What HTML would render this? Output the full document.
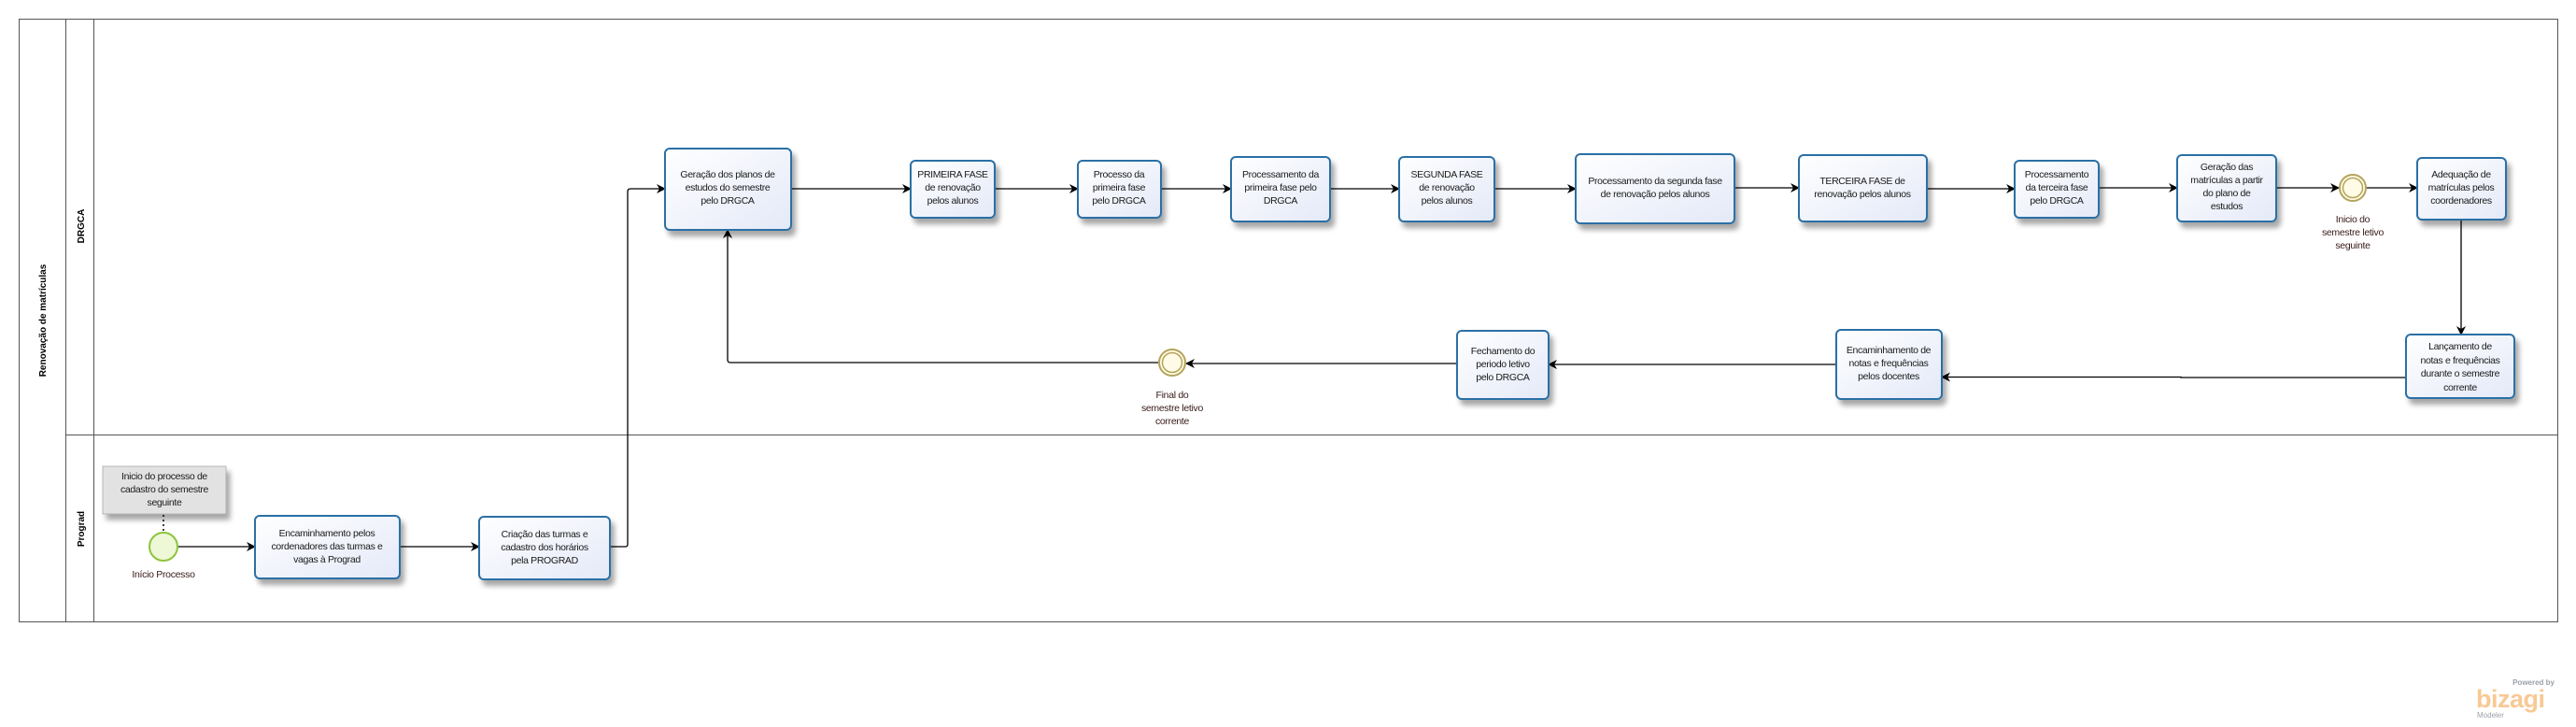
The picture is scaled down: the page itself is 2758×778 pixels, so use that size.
<!DOCTYPE html>
<html><head><meta charset="utf-8">
<style>
html,body{margin:0;padding:0;background:#fff;}
svg{display:block;}
text{font-family:"Liberation Sans",sans-serif;}
.t{font-size:10.5px;fill:#1a1a1a;letter-spacing:-0.35px;}
.lbl{font-size:10.5px;fill:#3a1a1a;letter-spacing:-0.3px;}
</style></head>
<body>
<svg width="2758" height="778" viewBox="0 0 2758 778" xmlns="http://www.w3.org/2000/svg">
<defs>
<linearGradient id="g" x1="0" y1="0" x2="1" y2="1">
<stop offset="0" stop-color="#ffffff"/><stop offset="1" stop-color="#e4e9f8"/>
</linearGradient>
<filter id="sh" x="-10%" y="-10%" width="130%" height="140%">
<feGaussianBlur in="SourceAlpha" stdDeviation="3"/><feOffset dx="4" dy="6"/>
<feComponentTransfer><feFuncA type="linear" slope="0.35"/></feComponentTransfer>
<feMerge><feMergeNode/><feMergeNode in="SourceGraphic"/></feMerge>
</filter>
<marker id="a" markerWidth="10" markerHeight="10" refX="9" refY="5" orient="auto" markerUnits="userSpaceOnUse">
<path d="M0,0 L10,5 L0,10 L3,5 Z" fill="#000"/>
</marker>
</defs>

<!-- Pool -->
<rect x="20.5" y="20.5" width="2718" height="645" fill="none" stroke="#555" stroke-width="1"/>
<line x1="70.5" y1="20" x2="70.5" y2="666" stroke="#555"/>
<line x1="100.5" y1="20" x2="100.5" y2="666" stroke="#555"/>
<line x1="70" y1="465.5" x2="2739" y2="465.5" stroke="#555"/>
<text transform="translate(49,343) rotate(-90)" text-anchor="middle" font-size="10" font-weight="bold" fill="#000">Renovação de matrículas</text>
<text transform="translate(90,242) rotate(-90)" text-anchor="middle" font-size="10" font-weight="bold" fill="#000">DRGCA</text>
<text transform="translate(90,566) rotate(-90)" text-anchor="middle" font-size="10" font-weight="bold" fill="#000">Prograd</text>

<!-- connectors -->
<g stroke="#000" stroke-width="1.3" fill="none">
<line x1="190" y1="585" x2="273" y2="585" marker-end="url(#a)"/>
<line x1="428" y1="585" x2="513" y2="585" marker-end="url(#a)"/>
<path d="M653,585 H670 Q672,585 672,582 V205 Q672,202 675,202 H712" marker-end="url(#a)"/>
<line x1="847" y1="202" x2="975" y2="202" marker-end="url(#a)"/>
<line x1="1065" y1="202" x2="1154" y2="202" marker-end="url(#a)"/>
<line x1="1243" y1="202" x2="1318" y2="202" marker-end="url(#a)"/>
<line x1="1424" y1="202" x2="1498" y2="202" marker-end="url(#a)"/>
<line x1="1600" y1="202" x2="1687" y2="202" marker-end="url(#a)"/>
<line x1="1857" y1="201" x2="1926" y2="201" marker-end="url(#a)"/>
<line x1="2063" y1="202" x2="2157" y2="202" marker-end="url(#a)"/>
<line x1="2247" y1="201" x2="2331" y2="201" marker-end="url(#a)"/>
<line x1="2437" y1="201" x2="2504" y2="201" marker-end="url(#a)"/>
<line x1="2534" y1="201" x2="2588" y2="201" marker-end="url(#a)"/>
<line x1="2635" y1="235" x2="2635" y2="358" marker-end="url(#a)"/>
<path d="M2576,404 H2335 V403.5 H2079" marker-end="url(#a)"/>
<line x1="1966" y1="390" x2="1658" y2="390" marker-end="url(#a)"/>
<line x1="1560" y1="389" x2="1270" y2="389" marker-end="url(#a)"/>
<path d="M1240,388 H782 Q779,388 779,385 V246" marker-end="url(#a)"/>
</g>

<!-- annotation -->
<rect x="110" y="499" width="132" height="51" fill="#e2e2e2" stroke="#aaa" stroke-width="0.8" filter="url(#sh)"/>
<text class="t" text-anchor="middle" x="176" y="513">Inicio do processo de</text>
<text class="t" text-anchor="middle" x="176" y="527">cadastro do semestre</text>
<text class="t" text-anchor="middle" x="176" y="541">seguinte</text>
<line x1="175" y1="551" x2="175" y2="570" stroke="#000" stroke-width="1.5" stroke-dasharray="2,3"/>

<!-- start -->
<circle cx="175" cy="585" r="15" fill="#eef7d6" stroke="#8cc43c" stroke-width="2"/>
<text class="lbl" text-anchor="middle" x="175" y="618">Início Processo</text>

<!-- tasks -->
<g stroke="#2b6fa6" stroke-width="2" fill="url(#g)" filter="url(#sh)">
<rect x="273" y="552" width="155" height="67" rx="5"/>
<rect x="513" y="553" width="140" height="67" rx="5"/>
<rect x="712" y="159" width="135" height="87" rx="5"/>
<rect x="975" y="172" width="90" height="61" rx="5"/>
<rect x="1154" y="172" width="89" height="61" rx="5"/>
<rect x="1318" y="168" width="106" height="69" rx="5"/>
<rect x="1498" y="168" width="102" height="69" rx="5"/>
<rect x="1687" y="165" width="170" height="74" rx="5"/>
<rect x="1926" y="166" width="137" height="71" rx="5"/>
<rect x="2157" y="172" width="90" height="61" rx="5"/>
<rect x="2331" y="166" width="106" height="71" rx="5"/>
<rect x="2588" y="169" width="95" height="66" rx="5"/>
<rect x="2576" y="358" width="116" height="68" rx="5"/>
<rect x="1966" y="353" width="113" height="74" rx="5"/>
<rect x="1560" y="354" width="98" height="73" rx="5"/>
</g>

<g class="t" text-anchor="middle">
<text x="350" y="574">Encaminhamento pelos</text><text x="350" y="588">cordenadores das turmas e</text><text x="350" y="602">vagas à Prograd</text>
<text x="583" y="575">Criação das turmas e</text><text x="583" y="589">cadastro dos horários</text><text x="583" y="603">pela PROGRAD</text>
<text x="779" y="190">Geração dos planos de</text><text x="779" y="204">estudos do semestre</text><text x="779" y="218">pelo DRGCA</text>
<text x="1020" y="190">PRIMEIRA FASE</text><text x="1020" y="204">de renovação</text><text x="1020" y="218">pelos alunos</text>
<text x="1198" y="190">Processo da</text><text x="1198" y="204">primeira fase</text><text x="1198" y="218">pelo DRGCA</text>
<text x="1371" y="190">Processamento da</text><text x="1371" y="204">primeira fase pelo</text><text x="1371" y="218">DRGCA</text>
<text x="1549" y="190">SEGUNDA FASE</text><text x="1549" y="204">de renovação</text><text x="1549" y="218">pelos alunos</text>
<text x="1772" y="197">Processamento da segunda fase</text><text x="1772" y="211">de renovação pelos alunos</text>
<text x="1994" y="197">TERCEIRA FASE de</text><text x="1994" y="211">renovação pelos alunos</text>
<text x="2202" y="190">Processamento</text><text x="2202" y="204">da terceira fase</text><text x="2202" y="218">pelo DRGCA</text>
<text x="2384" y="182">Geração das</text><text x="2384" y="196">matrículas a partir</text><text x="2384" y="210">do plano de</text><text x="2384" y="224">estudos</text>
<text x="2635" y="190">Adequação de</text><text x="2635" y="204">matrículas pelos</text><text x="2635" y="218">coordenadores</text>
<text x="2634" y="374">Lançamento de</text><text x="2634" y="389">notas e frequências</text><text x="2634" y="403">durante o semestre</text><text x="2634" y="418">corrente</text>
<text x="2022" y="378">Encaminhamento de</text><text x="2022" y="392">notas e frequências</text><text x="2022" y="406">pelos docentes</text>
<text x="1609" y="379">Fechamento do</text><text x="1609" y="393">periodo letivo</text><text x="1609" y="407">pelo DRGCA</text>
</g>

<!-- intermediate event -->
<circle cx="2519" cy="201" r="14" fill="#fffbe6" stroke="#b4a45c" stroke-width="2"/>
<circle cx="2519" cy="201" r="10.5" fill="none" stroke="#b4a45c" stroke-width="1.5"/>
<g class="lbl" text-anchor="middle">
<text x="2519" y="238">Inicio do</text><text x="2519" y="252">semestre letivo</text><text x="2519" y="266">seguinte</text>
</g>

<!-- end-ish event -->
<circle cx="1255" cy="388" r="14" fill="#fffbe6" stroke="#b4a45c" stroke-width="2"/>
<circle cx="1255" cy="388" r="10.5" fill="none" stroke="#b4a45c" stroke-width="1.5"/>
<g class="lbl" text-anchor="middle">
<text x="1255" y="426">Final do</text><text x="1255" y="440">semestre letivo</text><text x="1255" y="454">corrente</text>
</g>

<!-- logo -->
<text x="2735" y="733" text-anchor="end" font-size="8" font-weight="bold" fill="#9aa0a8">Powered by</text>
<text x="2651" y="757" font-size="27" font-weight="bold" fill="#f8c995" letter-spacing="-0.5">bizagi</text>
<text x="2652" y="768" font-size="8" fill="#9aa0a8">Modeler</text>
</svg>
</body></html>
